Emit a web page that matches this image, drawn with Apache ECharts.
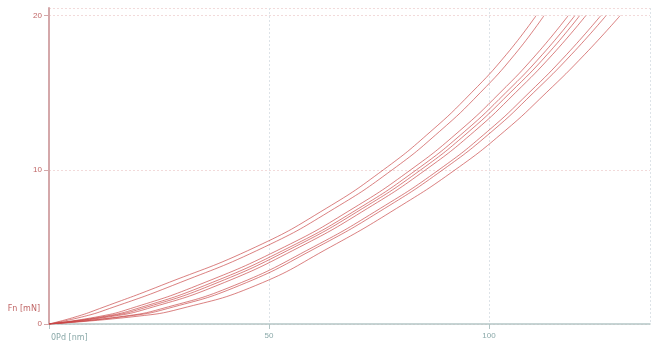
<!DOCTYPE html>
<html><head><meta charset="utf-8">
<script src="https://cdn.jsdelivr.net/npm/echarts@6/dist/echarts.min.js"></script>
<style>html,body{margin:0;padding:0;background:#fff}#c{width:656px;height:344px}</style>
</head><body><div id="c"></div>
<script>
// Force levels (mN) shared by all loading curves
var forceLevels = [0, 0.5, 1, 2.5, 5, 7.5, 10, 12.5, 15, 17.5, 20];
// Depth (nm) of each curve at those force levels
var curve1 = [0, 6.5, 11.5, 25.5, 47, 63, 76, 86.8, 96, 104, 110.7];
var curve2 = [0, 8.1, 13.7, 28.1, 49, 64.9, 78, 88.8, 98, 105.9, 112.5];
var curve3 = [0, 11.6, 18.5, 33.7, 53.5, 69.1, 82.2, 93.2, 102.5, 110.8, 118];
var curve4 = [0, 12.7, 20, 35.4, 54.8, 70.4, 83.5, 94.5, 103.8, 112.2, 119.5];
var curve5 = [0, 13.5, 21.1, 36.7, 55.8, 71.3, 84.5, 95.5, 104.8, 113.3, 120.6];
var curve6 = [0, 14.5, 22.4, 38.2, 57, 72.4, 85.6, 96.7, 106, 114.5, 122];
var curve7 = [0, 16.9, 25.7, 42.1, 60.1, 75.3, 88.6, 99.7, 109.1, 117.7, 125.4];
var curve8 = [0, 17.7, 26.9, 43.3, 61.1, 76.3, 89.5, 100.7, 110.1, 118.8, 126.6];
var curve9 = [0, 20, 30, 47, 64, 79, 92.3, 103.5, 113, 121.8, 129.8];
var curves = [curve1, curve2, curve3, curve4, curve5, curve6, curve7, curve8, curve9];
var xTickLabels = ['', '50', '100'];
var yTickLabels = ['0', '10', '20'];

var chart = echarts.init(document.getElementById('c'));
var series = curves.map(function (c) {
  return {
    type: 'line', smooth: 0.5, symbol: 'none',
    lineStyle: { color: 'rgba(200,70,70,0.68)', width: 1 },
    data: c.map(function (h, i) { return [h, forceLevels[i]]; })
  };
});
chart.setOption({
  animation: false,
  grid: { left: 49, right: 6, top: 8, bottom: 20 },
  xAxis: {
    type: 'value', min: 0, max: 136.6, interval: 50, offset: 2,
    axisLine: { lineStyle: { color: '#b4c6c6', width: 1.5 } },
    axisTick: { show: true, length: 5, lineStyle: { color: '#b4c6c6' } },
    axisLabel: { color: '#8aa9a9', fontSize: 8, margin: 6, showMaxLabel: false,
      formatter: function (v) { return xTickLabels[Math.round(v / 50)] || ''; } },
    splitLine: { show: true, lineStyle: { color: '#dde3e8', type: [2, 2], width: 1 } }
  },
  yAxis: {
    type: 'value', min: 0, max: 20.5, interval: 10,
    axisLine: { show: true, lineStyle: { color: '#d4a8aa', width: 2 } },
    axisTick: { show: true, length: 5, lineStyle: { color: '#d4a8aa' } },
    axisLabel: { color: '#c06666', fontSize: 8, margin: 7, showMaxLabel: false,
      formatter: function (v) { return yTickLabels[Math.round(v / 10)] || ''; } },
    splitLine: { show: true, lineStyle: { color: '#f2dada', type: [2, 2], width: 1 } }
  },
  graphic: [
    { type: 'text', right: 616, top: 305, style: { text: 'Fn [mN]', fill: '#c06666', font: '8px "DejaVu Sans"', textAlign: 'right' } },
    { type: 'text', left: 51, top: 334, style: { text: '0Pd [nm]', fill: '#8aa9a9', font: '8px "DejaVu Sans"' } }
  ],
  series: series
});
</script></body></html>
